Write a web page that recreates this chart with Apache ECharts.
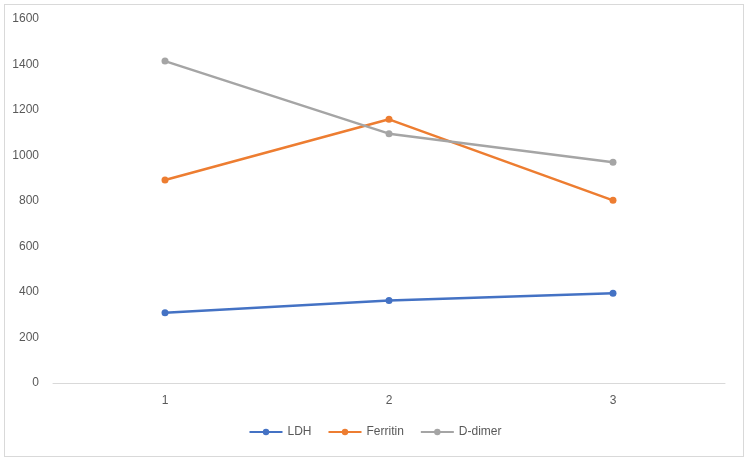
<!DOCTYPE html>
<html><head><meta charset="utf-8">
<script src="https://cdn.jsdelivr.net/npm/echarts@6/dist/echarts.min.js"></script>
<style>html,body{margin:0;padding:0;background:#fff}#c{width:750px;height:463px}
#frame{position:absolute;left:4px;top:4px;width:740px;height:453px;border:1px solid #d9d9d9;box-sizing:border-box;pointer-events:none}</style>
</head><body><div id="c"></div><div id="frame"></div>
<script>
const categories = ['1', '2', '3'];
const ldh = [309, 363, 394];
const ferritin = [892, 1159, 803];
const dDimer = [1415, 1096, 970];
const yTicks = [0, 200, 400, 600, 800, 1000, 1200, 1400, 1600];

const chart = echarts.init(document.getElementById('c'), null, {renderer: 'canvas'});
const font = 'Liberation Sans, Arial, sans-serif';
function s(name, data, color) {
  return {name, type: 'line', data, color, symbol: 'circle', symbolSize: 7,
    lineStyle: {width: 2.5, color}, itemStyle: {color}};
}
chart.setOption({
  animation: false,
  textStyle: {fontFamily: font},
  grid: {left: 53, right: 25, top: 19, bottom: 80},
  xAxis: {type: 'category', data: categories, boundaryGap: true,
    axisLine: {lineStyle: {color: '#d9d9d9', width: 1}}, axisTick: {show: false},
    axisLabel: {color: '#595959', fontSize: 12, margin: 12}},
  yAxis: {type: 'value', min: yTicks[0], max: yTicks[yTicks.length - 1], interval: 200,
    axisLine: {show: false}, axisTick: {show: false}, splitLine: {show: false},
    axisLabel: {color: '#595959', fontSize: 12, margin: 14, formatter: v => String(v)}},
  legend: {bottom: 20, left: 'center', itemWidth: 33, itemHeight: 8, itemGap: 16,
    textStyle: {color: '#595959', fontSize: 12, fontFamily: font},
    data: ['LDH', 'Ferritin', 'D-dimer']},
  series: [s('LDH', ldh, '#4472C4'), s('Ferritin', ferritin, '#ED7D31'), s('D-dimer', dDimer, '#A5A5A5')]
});
</script></body></html>
